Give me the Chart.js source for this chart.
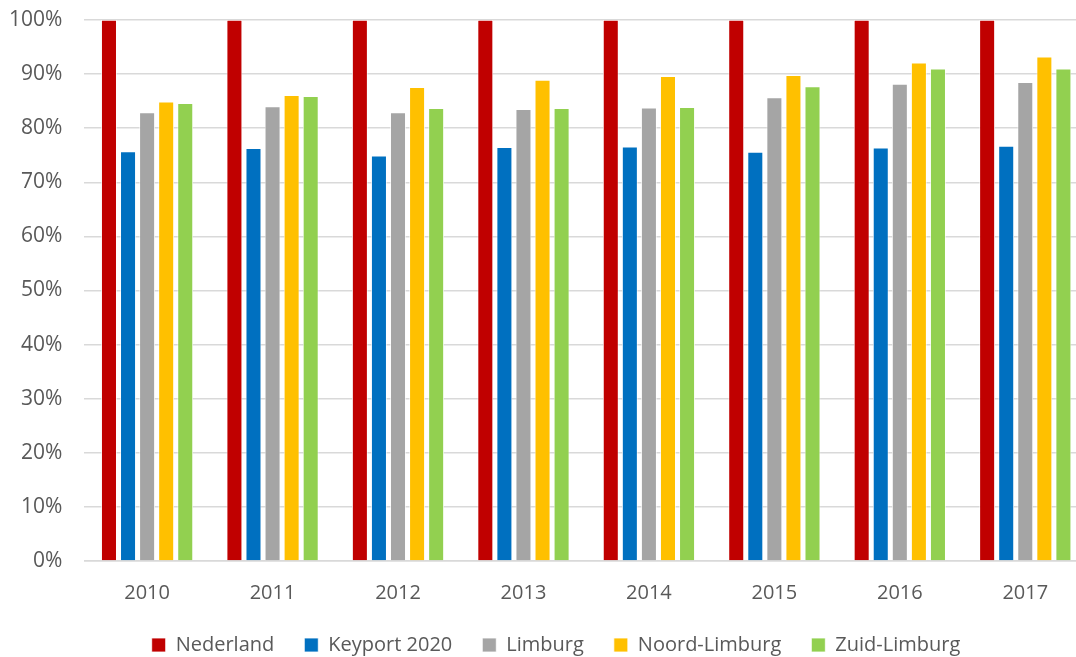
<!DOCTYPE html>
<html>
<head>
<meta charset="utf-8">
<script src="https://cdn.jsdelivr.net/npm/chart.js@4.4.0/dist/chart.umd.min.js"></script>
<style>
html,body{margin:0;padding:0;background:#fff;overflow:hidden;}
#wrap{position:relative;width:1092px;height:657px;}
</style>
</head>
<body>
<div id="wrap"><canvas id="c"></canvas></div>
<script>
const years = ['2010','2011','2012','2013','2014','2015','2016','2017'];
const nederland = [100,100,100,100,100,100,100,100];
const keyport = [75.7,76.3,74.9,76.5,76.6,75.6,76.4,76.7];
const limburg = [82.9,84.0,82.9,83.5,83.8,85.7,88.2,88.5];
const noordLimburg = [84.9,86.1,87.6,88.9,89.6,89.8,92.1,93.2];
const zuidLimburg = [84.6,85.9,83.7,83.7,83.9,87.7,91.0,91.0];

const font = "'Open Sans', 'Liberation Sans', sans-serif";
const ds = (label, data, color) => ({label, data, backgroundColor: color, borderColor: '#ffffff', borderWidth: 0.8, barPercentage: 0.82, categoryPercentage: 0.76});

const legendAdjust = {
  id: 'legendAdjust',
  beforeLayout(chart) {
    const lg = chart.legend;
    if (lg && !lg._patched) {
      const orig = lg.fit;
      lg.fit = function() { orig.call(this); this.height -= 20; };
      lg._patched = true;
    }
  },
  afterLayout(chart) {
    const lg = chart.legend;
    if (lg) {
      lg.top -= 12;
      lg.bottom = chart.height + 60;
      lg.height = lg.bottom - lg.top;
      lg.left += 9; lg.right += 9;
    }
  }
};

new Chart(document.getElementById('c'), {
  type: 'bar',
  data: {
    labels: years,
    datasets: [
      ds('Nederland', nederland, '#c00000'),
      ds('Keyport 2020', keyport, '#0070c0'),
      ds('Limburg', limburg, '#a5a5a5'),
      ds('Noord-Limburg', noordLimburg, '#ffc000'),
      ds('Zuid-Limburg', zuidLimburg, '#92d050')
    ]
  },
  plugins: [legendAdjust],
  options: {
    responsive: true,
    maintainAspectRatio: false,
    animation: false,
    layout: {padding: {left: 6, right: 4, top: 20, bottom: 0}},
    plugins: {
      tooltip: {enabled: false},
      legend: {
        position: 'bottom',
        labels: {
          font: {family: font, size: 20},
          color: '#595959',
          boxWidth: 14,
          boxHeight: 14,
          padding: 30,
          useBorderRadius: false
        }
      }
    },
    scales: {
      x: {
        grid: {display: false},
        border: {color: '#d9d9d9', width: 1.5},
        ticks: {font: {family: font, size: 20}, color: '#595959', padding: 12}
      },
      y: {
        min: 0, max: 100,
        ticks: {stepSize: 10, callback: v => v + '%', font: {family: font, size: 21}, color: '#595959', padding: 3},
        grid: {color: '#d9d9d9', lineWidth: 1.5, drawTicks: true, tickLength: 19, tickColor: 'rgba(0,0,0,0)'},
        border: {display: false}
      }
    }
  }
});
</script>
</body>
</html>
